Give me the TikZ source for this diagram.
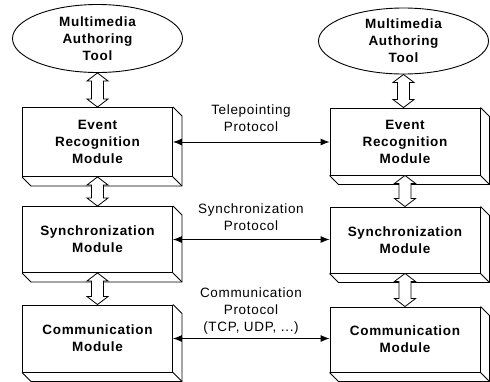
\documentclass[tikz,border=0pt]{standalone}
\usepackage{fontspec}
\setmainfont{Liberation Sans}
\usetikzlibrary{shapes.geometric,arrows.meta,calc}
\begin{document}
\begin{tikzpicture}[x=1pt,y=-1pt,line width=0.9pt,
  txt/.style={font=\fontsize{13.5}{17}\selectfont\addfontfeature{LetterSpace=5}, align=center, inner sep=0pt},
  boldtxt/.style={font=\fontsize{13.5}{17}\selectfont\bfseries\addfontfeature{LetterSpace=5}, align=center},
  tool/.style={ellipse, draw, boldtxt, minimum width=170pt, minimum height=68pt, inner sep=0pt},
  modbox/.style={draw, boldtxt, minimum width=150pt, minimum height=67pt, inner sep=0pt},
  proto/.style={{Latex[length=9pt,width=7pt]}-{Latex[length=9pt,width=7pt]}},
  hollow/.style={draw, fill=white, line width=0.8pt, line join=miter}
]
\useasboundingbox (0,0) rectangle (490,381);

% 3D box faces macro
\newcommand{\boxdepth}[1]{%
  \draw[line join=miter] (#1.north east) -- ++(9,9) |- ($(#1.south west)+(9,9)$) -- (#1.south west);
  \draw (#1.south east) -- ++(9,9);}
% hollow double arrow between two coordinates (top, bottom)
\newcommand{\hollowarrow}[2]{%
  \draw[hollow] let \p1=(#1), \p2=(#2) in
    (\p1) -- (\x1+10.5pt,\y1-8pt) -- (\x1+6pt,\y1-8pt) -- (\x1+6pt,\y2+8pt) -- (\x1+10.5pt,\y2+8pt)
    -- (\x1,\y2) -- (\x1-10.5pt,\y2+8pt) -- (\x1-6pt,\y2+8pt) -- (\x1-6pt,\y1-8pt) -- (\x1-10.5pt,\y1-8pt) -- cycle;}

% left column
\node[tool] (lt) at (97.5,38.5) {Multimedia\\Authoring\\Tool};
\node[modbox, minimum height=69pt] (le) at (97.5,142) {Event\\Recognition\\Module};
\node[modbox, minimum height=66pt] (ls) at (97.5,239.5) {Synchronization\\Module};
\node[modbox] (lc) at (97.5,338.5) {Communication\\Module};

% right column
\node[tool, minimum height=66pt] (rt) at (403.5,41) {Multimedia\\Authoring\\Tool};
\node[modbox, minimum height=67pt] (re) at (405,141.5) {Event\\Recognition\\Module};
\node[modbox, minimum height=66pt] (rs) at (405,240) {Synchronization\\Module};
\node[modbox, minimum height=65pt] (rc) at (405,339.5) {Communication\\Module};

\boxdepth{le}\boxdepth{ls}\boxdepth{lc}
\boxdepth{re}\boxdepth{rs}\boxdepth{rc}

% vertical hollow arrows
\coordinate (a1t) at (lt.south); \coordinate (a1b) at (le.north -| lt.south);
\hollowarrow{a1t}{a1b}
\coordinate (a2t) at (le.south); \coordinate (a2b) at (ls.north);
\hollowarrow{a2t}{a2b}
\coordinate (a3t) at (ls.south); \coordinate (a3b) at (lc.north);
\hollowarrow{a3t}{a3b}
\coordinate (b1t) at (rt.south); \coordinate (b1b) at (re.north -| rt.south);
\hollowarrow{b1t}{b1b}
\coordinate (b2t) at (re.south); \coordinate (b2b) at (rs.north);
\hollowarrow{b2t}{b2b}
\coordinate (b3t) at (rs.south); \coordinate (b3b) at (rc.north);
\hollowarrow{b3t}{b3b}

% protocol arrows
\draw[proto] (le.east) -- (re.west |- le.east);
\draw[proto] (ls.east) -- (rs.west |- ls.east);
\draw[proto] (lc.east) -- (rc.west |- lc.east);

% protocol labels
\node[txt] (p1) at (251,118.5) {Telepointing\\Protocol};
\node[txt] (p2) at (251,217.5) {Synchronization\\Protocol};
\node[txt] (p3) at (251,311) {Communication\\Protocol\\(TCP, UDP, ...)};
\end{tikzpicture}
\end{document}
